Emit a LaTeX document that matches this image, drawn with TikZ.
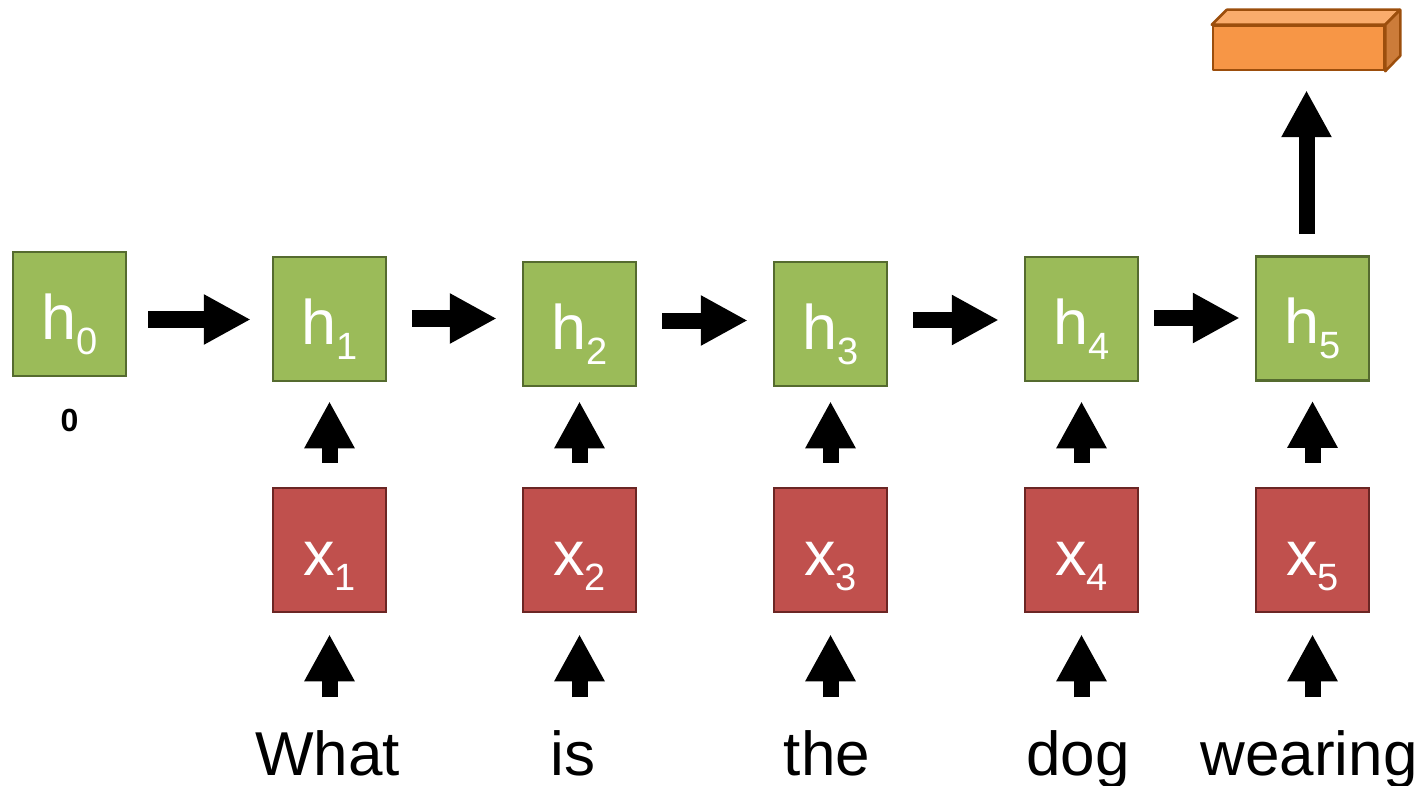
\documentclass[tikz,border=0pt]{standalone}
\usepackage{fontspec}
\setmainfont{Liberation Sans}
\usetikzlibrary{arrows.meta,calc}
\definecolor{hfill}{HTML}{9BBB59}
\definecolor{hdraw}{HTML}{556B2F}
\definecolor{xfill}{HTML}{C0504D}
\definecolor{xdraw}{HTML}{6B2624}
\definecolor{ofront}{HTML}{F79646}
\definecolor{otop}{HTML}{FAAC6C}
\definecolor{oside}{HTML}{CC7C3A}
\definecolor{odraw}{HTML}{9C4E0C}
\tikzset{
  cell/.style={minimum width=113pt, minimum height=124pt, line width=2.5pt,
    inner sep=0pt, text=white, text height=50pt, text depth=0pt,
    font=\fontsize{63}{63}\selectfont},
  hcell/.style={cell, fill=hfill, draw=hdraw},
  xcell/.style={cell, fill=xfill, draw=xdraw},
  blk/.style={line width=16pt, -{Triangle[length=47pt,width=47pt]}},
  word/.style={anchor=base, inner sep=0pt, font=\fontsize{62}{62}\selectfont},
  faces/.style={line width=2.5pt, draw=odraw, line join=round},
}
\newcommand\cellname[2]{#1\raisebox{-15pt}{\fontsize{38}{38}\selectfont #2}}
\begin{document}
\begin{tikzpicture}[x=1pt, y=-1pt]
\useasboundingbox (0,0) rectangle (1424,786);

% hidden states
\node[hcell] (h0) at (69.5,314) {\cellname{h}{0}};
\node[hcell] (h1) at (329.5,319) {\cellname{h}{1}};
\node[hcell] (h2) at (579.5,324) {\cellname{h}{2}};
\node[hcell] (h3) at (830.5,324) {\cellname{h}{3}};
\node[hcell] (h4) at (1081.5,319) {\cellname{h}{4}};
\node[hcell] (h5) at (1312.5,318.5) {\cellname{h}{5}};

% inputs
\node[xcell] (x1) at (329.5,550) {\cellname{x}{1}};
\node[xcell] (x2) at (579.5,550) {\cellname{x}{2}};
\node[xcell] (x3) at (830.5,550) {\cellname{x}{3}};
\node[xcell] (x4) at (1081.5,550) {\cellname{x}{4}};
\node[xcell] (x5) at (1312.5,550) {\cellname{x}{5}};

% initial state value
\node[anchor=base, inner sep=0pt, font=\fontsize{32}{32}\selectfont\bfseries] (zero) at (69.5,431) {0};

% words
\node[word] (w1) at (327.5,775) {What};
\node[word] (w2) at (573,775) {is};
\node[word] (w3) at (827,775) {the};
\node[word] (w4) at (1078,775) {dog};
\node[word] (w5) at (1309,775) {wearing};

% output vector (3D bar)
\node[minimum width=171pt, minimum height=44pt, inner sep=0pt, fill=ofront, faces] (out) at (1298.5,48) {};
\filldraw[faces, fill=otop] (out.north west) -- ++(15,-15) -- ++(173,0) -- (out.north east) -- cycle;
\filldraw[faces, fill=oside] (out.north east) -- ++(15,-15) -- ++(0,46) -- (out.south east) -- cycle;

% recurrence arrows
\draw[blk] ($(h0.east)+(21pt,-5.5pt)$) -- ($(h1.west)+(-21pt,-0.5pt)$);
\draw[blk] ($(h1.east)+(25pt,0.5pt)$) -- ($(h2.west)+(-25pt,5.5pt)$);
\draw[blk] ($(h2.east)+(25pt,3.5pt)$) -- ($(h3.west)+(-25pt,3.5pt)$);
\draw[blk] ($(h3.east)+(25pt,4pt)$) -- ($(h4.west)+(-25pt,-1pt)$);
\draw[blk] ($(h4.east)+(15pt,1pt)$) -- ($(h5.west)+(-15pt,0.5pt)$);

% input arrows
\draw[blk] ($(x1.north)+(0,24pt)$) -- ($(h1.south)+(0,-19pt)$);
\draw[blk] ($(x2.north)+(0,24pt)$) -- ($(h2.south)+(0,-14pt)$);
\draw[blk] ($(x3.north)+(0,24pt)$) -- ($(h3.south)+(0,-14pt)$);
\draw[blk] ($(x4.north)+(0,24pt)$) -- ($(h4.south)+(0,-19pt)$);
\draw[blk] ($(x5.north)+(0,24pt)$) -- ($(h5.south)+(0,-19pt)$);

% word arrows
\foreach \i in {1,...,5} {
  \coordinate (b\i) at ($(x\i.south)+(0,-84pt)$);
  \draw[blk] (b\i) -- ($(x\i.south)+(0,-21pt)$);
}

% output arrow
\draw[blk] ($(h5.north)+(-6pt,21pt)$) -- ($(h5.north |- out.south)+(-6pt,-19pt)$);
\end{tikzpicture}
\end{document}
